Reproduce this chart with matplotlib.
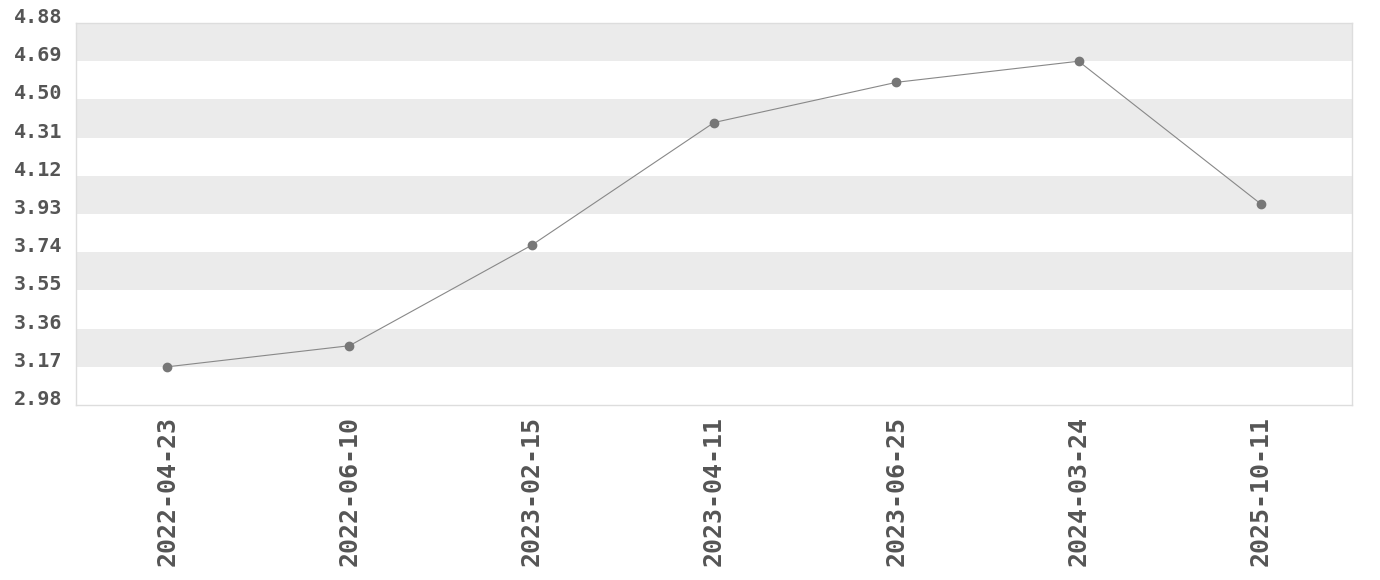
import matplotlib.pyplot as plt

dates = ['2022-04-23', '2022-06-10', '2023-02-15', '2023-04-11',
         '2023-06-25', '2024-03-24', '2025-10-11']
values = [3.17, 3.275, 3.775, 4.385, 4.585, 4.69, 3.98]
yticks = [2.98, 3.17, 3.36, 3.55, 3.74, 3.93, 4.12, 4.31, 4.50, 4.69, 4.88]

plt.rcParams['font.family'] = ['DejaVu Sans Mono']
plt.rcParams['font.weight'] = 'bold'

fig = plt.figure(figsize=(13.8, 5.8), dpi=100)
ax = fig.add_axes([0.0551, 0.3017, 0.9246, 0.6586])

# alternating bands, top one gray
for i in range(len(yticks) - 1):
    if (len(yticks) - 2 - i) % 2 == 0:
        ax.axhspan(yticks[i], yticks[i + 1], color='#ebebeb', lw=0, zorder=0)

x = range(len(dates))
ax.plot(x, values, color='#888888', lw=0.8, marker='o', markersize=6,
        markerfacecolor='#777777', markeredgecolor='#777777', zorder=3)

ax.set_xlim(-0.5, len(dates) - 0.5)
ax.set_ylim(yticks[0], yticks[-1])
ax.set_yticks(yticks)
ax.set_yticklabels([f'{t:.2f}' for t in yticks], fontsize=14.5, color='#555555',
                   va='baseline')
ax.set_xticks(list(x))
ax.set_xticklabels(dates, rotation=90, fontsize=18, color='#555555')
ax.tick_params(length=0, pad=8)
ax.tick_params(axis='y', pad=10)
for s in ax.spines.values():
    s.set_color('#dddddd')
    s.set_linewidth(1)

fig.savefig('out.png', dpi=100)
